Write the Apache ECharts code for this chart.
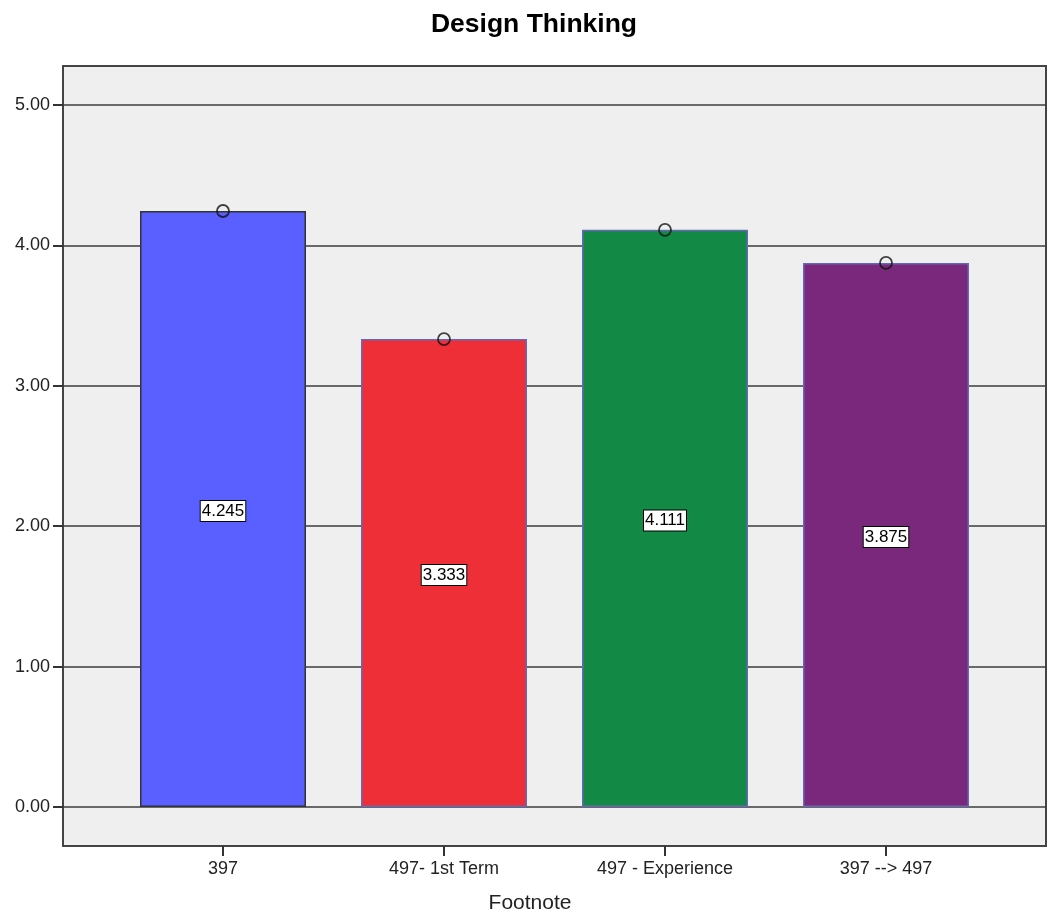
<!DOCTYPE html>
<html>
<head>
<meta charset="utf-8">
<title>Design Thinking</title>
<script src="https://cdn.jsdelivr.net/npm/echarts@6/dist/echarts.min.js"></script>
<style>
  html, body { margin: 0; padding: 0; background: #ffffff; }
  #chart { width: 1047px; height: 913px; }
</style>
</head>
<body>
<div id="chart"></div>
<script>
// Group means on the Design Thinking scale
const categories = ['397', '497- 1st Term', '497 - Experience', '397 --> 497'];
const means = [4.245, 3.333, 4.111, 3.875];
const yMin = 0;
const yMax = 5;
const yStep = 1;
// the grey panel reaches a little past the labelled range on both ends
const panelPad = 0.27778;

// Bar fills and outlines, one per group
const palette = ['#5a60ff', '#ef2f38', '#128a45', '#7a287b'];
const outlines = ['#333333', '#6767b8', '#6767b8', '#6767b8'];

const FONT = '"Liberation Sans", Arial, sans-serif';

const chart = echarts.init(document.getElementById('chart'), null, { renderer: 'canvas' });

const option = {
  animation: false,
  title: [
    {
      text: 'Design Thinking',
      left: 529, top: 6, textAlign: 'center',
      textStyle: { fontFamily: FONT, fontSize: 26.5, fontWeight: 'bold', color: '#000' }
    },
    {
      text: 'Footnote',
      left: 525, top: 888, textAlign: 'center',
      textStyle: { fontFamily: FONT, fontSize: 21, fontWeight: 'normal', color: '#222' }
    }
  ],
  grid: [
    // plot frame with grey panel
    { left: 63, top: 66, width: 983, height: 780, show: true,
      backgroundColor: '#efefef', borderColor: '#444444', borderWidth: 2 },
    // value scale spanning the full panel width (gridlines + y labels)
    { left: 63, top: 105, width: 983, height: 702 },
    // bars, spanning the full panel height
    { left: 112.5, top: 66, width: 884, height: 780 }
  ],
  xAxis: [
    { gridIndex: 0, type: 'value', show: false },
    { gridIndex: 1, type: 'category', data: categories, show: false },
    {
      gridIndex: 2, type: 'category', data: categories, boundaryGap: true,
      axisLine: { show: false, onZero: false },
      axisTick: { show: true, alignWithLabel: true, length: 10,
                  lineStyle: { color: '#333', width: 2 } },
      axisLabel: { fontFamily: FONT, fontSize: 18, color: '#222', margin: 14 }
    }
  ],
  yAxis: [
    { gridIndex: 0, type: 'value', show: false },
    {
      gridIndex: 1, type: 'value', min: yMin, max: yMax, interval: yStep,
      axisLine: { show: false },
      axisTick: { show: true, length: 10, lineStyle: { color: '#333', width: 2 } },
      axisLabel: { fontFamily: FONT, fontSize: 18, color: '#222', margin: 13,
                   formatter: v => v.toFixed(2) },
      splitLine: { show: true, lineStyle: { color: '#3c3c3c', width: 1.5 } }
    },
    { gridIndex: 2, type: 'value', min: yMin - panelPad, max: yMax + panelPad, show: false,
      splitLine: { show: false } }
  ],
  series: [
    {
      type: 'bar',
      xAxisIndex: 2, yAxisIndex: 2,
      barWidth: 166,
      data: means.map((v, i) => ({
        value: v,
        itemStyle: { color: palette[i], borderColor: outlines[i], borderWidth: 1.5 }
      })),
      label: {
        show: true, position: 'inside', offset: [0, 2],
        formatter: p => p.value.toFixed(3),
        fontFamily: FONT, fontSize: 17, color: '#000',
        backgroundColor: '#ffffff', borderColor: '#000', borderWidth: 1,
        padding: [2, 1, 1, 1]
      },
      z: 2
    },
    {
      type: 'scatter',
      xAxisIndex: 2, yAxisIndex: 2,
      symbol: 'circle', symbolSize: 12,
      data: means,
      itemStyle: { color: 'rgba(0,0,0,0)', borderColor: '#111', borderWidth: 1.8 },
      z: 3
    }
  ]
};

chart.setOption(option);
</script>
</body>
</html>
